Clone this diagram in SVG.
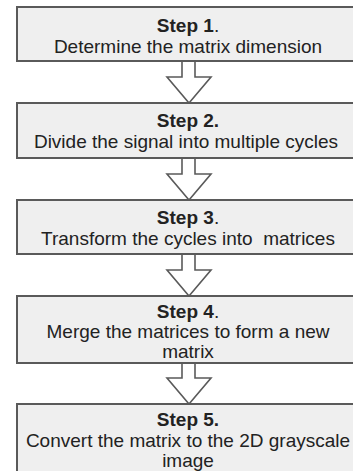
<svg xmlns="http://www.w3.org/2000/svg" width="353" height="471" viewBox="0 0 353 471">
<style>
.box{fill:#efefef;stroke:#5a5a5a;stroke-width:2}
.arr{fill:#ffffff;stroke:#5a5a5a;stroke-width:1.6;stroke-linejoin:miter}
text{font-family:"Liberation Sans",Arial,sans-serif;font-size:19px;fill:#222;text-anchor:middle;white-space:pre}
.b{font-weight:bold}
.n{font-weight:normal}
</style>
<rect width="353" height="471" fill="#ffffff"/>
<g id="connectors">
<path class="arr" d="M182,61 V77 H167 L189,103 L211,77 H195 V61"/>
<path class="arr" d="M182,158 V174 H167 L189,200 L211,174 H195 V158"/>
<path class="arr" d="M182,254 V270 H167 L189,296 L211,270 H195 V254"/>
<path class="arr" d="M182,363 V378 H167 L189,404 L211,378 H195 V363"/>
</g>
<g id="step1">
<rect class="box" x="17" y="7" width="346" height="54"/>
<text x="188" y="32" class="b">Step 1<tspan class="n">.</tspan></text>
<text x="188" y="53">Determine the matrix dimension</text>
</g>
<g id="step2">
<rect class="box" x="17" y="103" width="346" height="55"/>
<text x="188" y="127" class="b">Step 2.</text>
<text x="186" y="148">Divide the signal into multiple cycles</text>
</g>
<g id="step3">
<rect class="box" x="17" y="200" width="346" height="54"/>
<text x="188" y="224" class="b">Step 3<tspan class="n">.</tspan></text>
<text x="188" y="245">Transform the cycles into  matrices</text>
</g>
<g id="step4">
<rect class="box" x="17" y="296" width="346" height="67"/>
<text x="188" y="318" class="b">Step 4<tspan class="n">.</tspan></text>
<text x="188" y="338">Merge the matrices to form a new</text>
<text x="188" y="358">matrix</text>
</g>
<g id="step5">
<rect class="box" x="17" y="404" width="346" height="80"/>
<text x="188" y="426" class="b">Step 5.</text>
<text x="188" y="447">Convert the matrix to the 2D grayscale</text>
<text x="188" y="467">image</text>
</g>
</svg>
